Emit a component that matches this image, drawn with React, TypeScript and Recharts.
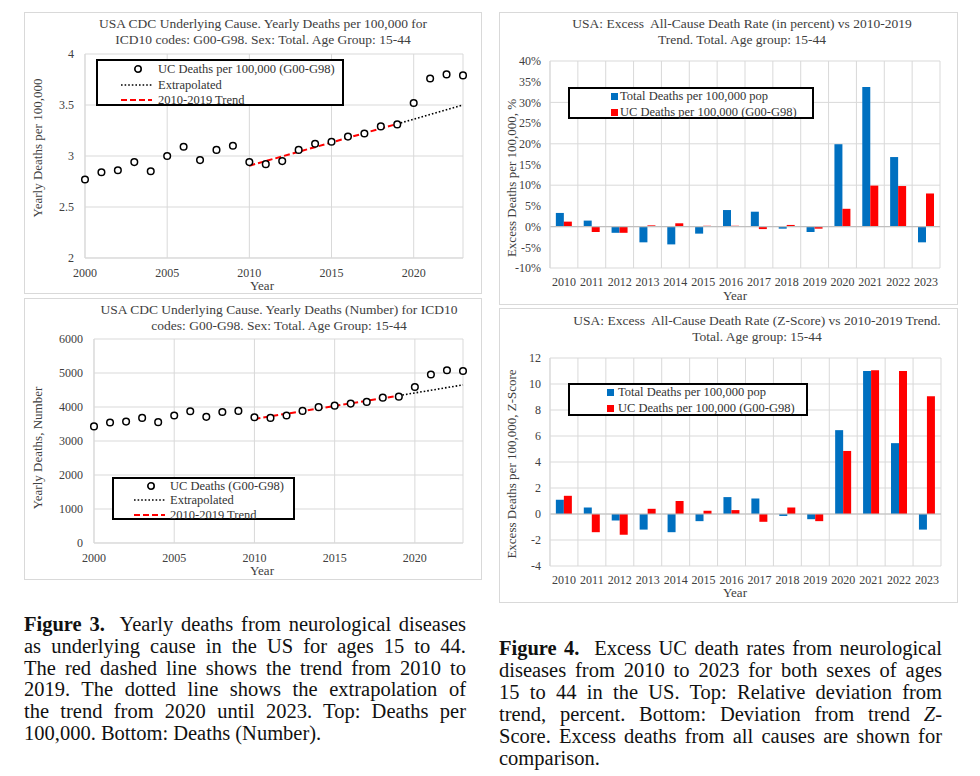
import React from "react";
import {
  ComposedChart,
  Line,
  BarChart,
  Bar,
  XAxis,
  YAxis,
  CartesianGrid,
  ReferenceLine,
} from "recharts";

// yearly deaths, ages 15-44, G00-G98
const years = [
  2000, 2001, 2002, 2003, 2004, 2005, 2006, 2007, 2008, 2009, 2010, 2011,
  2012, 2013, 2014, 2015, 2016, 2017, 2018, 2019, 2020, 2021, 2022, 2023,
];
const ucRate = [
  2.77, 2.84, 2.86, 2.94, 2.85, 3.0, 3.09, 2.96, 3.06, 3.1, 2.94, 2.92,
  2.95, 3.06, 3.12, 3.14, 3.19, 3.22, 3.29, 3.31, 3.52, 3.76, 3.8, 3.79,
];
const ucNumber = [
  3430, 3545, 3570, 3680, 3555, 3750, 3875, 3710, 3855, 3885, 3700, 3680,
  3750, 3885, 3995, 4040, 4100, 4150, 4275, 4305, 4590, 4955, 5080, 5060,
];
const trendYears = [2010, 2019];
const trendRate = [2.905, 3.315];
const trendNumber = [3650, 4335];
const extrapYears = [2019, 2023];
const extrapRate = [3.315, 3.5];
const extrapNumber = [4335, 4650];

const rateTicks = [2, 2.5, 3, 3.5, 4];
const numberTicks = [0, 1000, 2000, 3000, 4000, 5000, 6000];
const yearTicks = [2000, 2005, 2010, 2015, 2020];

// excess death rates 2010-2023
const barYears = [
  "2010", "2011", "2012", "2013", "2014", "2015", "2016",
  "2017", "2018", "2019", "2020", "2021", "2022", "2023",
];
const totalPct = [3.3, 1.45, -1.5, -3.8, -4.3, -1.7, 4.0, 3.6, -0.5, -1.3, 19.9, 33.7, 16.8, -3.8];
const ucPct = [1.2, -1.3, -1.5, 0.3, 0.8, 0.2, 0.2, -0.6, 0.4, -0.5, 4.3, 9.9, 9.8, 8.0];
const totalZ = [1.1, 0.5, -0.5, -1.2, -1.4, -0.55, 1.3, 1.2, -0.15, -0.4, 6.45, 11.0, 5.45, -1.2];
const ucZ = [1.4, -1.4, -1.6, 0.4, 1.0, 0.25, 0.3, -0.6, 0.5, -0.55, 4.85, 11.05, 11.0, 9.05];
const pctTicks = [-10, -5, 0, 5, 10, 15, 20, 25, 30, 35, 40];
const zTicks = [-4, -2, 0, 2, 4, 6, 8, 10, 12];

const FONT = '"Liberation Serif", "DejaVu Serif", serif';
const GRID = "#d9d9d9";
const TXT = "#404040";
const BLUE = "#0070C0";
const RED = "#FF0000";

const pointData = (vals: number[]) => years.map((y, i) => ({ year: y, v: vals[i] }));
const pairData = (xs: number[], vals: number[]) => xs.map((x, i) => ({ year: x, v: vals[i] }));
const barData = (a: number[], b: number[]) =>
  barYears.map((y, i) => ({ year: y, total: a[i], uc: b[i] }));

const tick = { fill: TXT, fontSize: 12, fontFamily: FONT };

// vertical grid on category boundaries, like the spreadsheet original
const boundaryGrid = ({ offset }: any) =>
  barYears.concat([""]).map((_, i) => offset.left + (i * offset.width) / barYears.length);

const Frame = ({ l, t, w, h, children }: any) => (
  <div
    style={{
      position: "absolute",
      left: l,
      top: t,
      width: w,
      height: h,
      outline: "1px solid " + GRID,
      outlineOffset: -1,
    }}
  >
    {children}
  </div>
);

const Label = ({ x, y, size = 13, rotate = false, lh = 16, children }: any) => (
  <div
    style={{
      position: "absolute",
      left: x,
      top: y,
      transform: `translate(-50%, -50%)${rotate ? " rotate(-90deg)" : ""}`,
      whiteSpace: "nowrap",
      fontFamily: FONT,
      fontSize: size,
      color: TXT,
      textAlign: "center",
      lineHeight: lh + "px",
    }}
  >
    {children}
  </div>
);

const LegendBox = ({ l, t, w, h, children }: any) => (
  <div
    style={{
      position: "absolute",
      left: l,
      top: t,
      width: w,
      height: h,
      border: "2px solid #000",
      boxSizing: "border-box",
      background: "#fff",
      fontFamily: FONT,
      fontSize: 12.5,
      color: "#333",
    }}
  >
    {children}
  </div>
);

const LegendRow = ({ y, textX, children, icon }: any) => (
  <div style={{ position: "absolute", left: 0, top: y - 8, height: 16, width: "100%" }}>
    {icon}
    <span style={{ position: "absolute", left: textX, top: 0, lineHeight: "16px", whiteSpace: "nowrap" }}>
      {children}
    </span>
  </div>
);

const CircleIcon = ({ x }: any) => (
  <svg style={{ position: "absolute", left: x - 5, top: 3 }} width={10} height={10}>
    <circle cx={5} cy={5} r={3.2} fill="#fff" stroke="#000" strokeWidth={1.6} />
  </svg>
);

const LineIcon = ({ x1, x2, color, dash, width }: any) => (
  <svg style={{ position: "absolute", left: x1, top: 6 }} width={x2 - x1} height={4}>
    <line x1={0} y1={2} x2={x2 - x1} y2={2} stroke={color} strokeWidth={width} strokeDasharray={dash} />
  </svg>
);

const SquareIcon = ({ x, color }: any) => (
  <div style={{ position: "absolute", left: x - 3, top: 5, width: 7, height: 7, background: color }} />
);

const ScatterPanel = ({ vals, trend, extrap, ticks, domain, yWidth, top }: any) => (
  <ComposedChart
    width={458}
    height={282}
    margin={{ top, right: 19, bottom: 37 - (top === 42 ? 1 : 0) - 20, left: 0 }}
    style={{ fontFamily: FONT }}
  >
    <CartesianGrid stroke={GRID} strokeWidth={1} />
    <XAxis
      type="number"
      dataKey="year"
      domain={[2000, 2023]}
      ticks={yearTicks}
      tick={tick}
      tickLine={false}
      tickMargin={4}
      height={20}
      axisLine={{ stroke: GRID }}
      allowDuplicatedCategory={false}
    />
    <YAxis
      type="number"
      domain={domain}
      ticks={ticks}
      tick={tick}
      tickLine={false}
      tickMargin={5}
      width={yWidth}
      axisLine={{ stroke: GRID }}
    />
    <Line
      data={pairData(extrapYears, extrap)}
      dataKey="v"
      stroke="#000"
      strokeWidth={1.6}
      strokeDasharray="1.6 2"
      dot={false}
      isAnimationActive={false}
    />
    <Line
      data={pairData(trendYears, trend)}
      dataKey="v"
      stroke={RED}
      strokeWidth={2}
      strokeDasharray="6 3"
      dot={false}
      isAnimationActive={false}
    />
    <Line
      data={pointData(vals)}
      dataKey="v"
      stroke="none"
      dot={{ r: 3.3, fill: "#fff", stroke: "#000", strokeWidth: 1.5 }}
      activeDot={false}
      isAnimationActive={false}
    />
  </ComposedChart>
);

const BarPanel = ({ a, b, ticks, domain, fmt, height, top, right }: any) => (
  <BarChart
    width={459}
    height={height}
    data={barData(a, b)}
    margin={{ top, right, bottom: 17, left: 0 }}
    barCategoryGap="21%"
    barGap={0}
    style={{ fontFamily: FONT }}
  >
    <CartesianGrid stroke={GRID} verticalCoordinatesGenerator={boundaryGrid} />
    <XAxis
      dataKey="year"
      interval={0}
      tick={tick}
      tickLine={false}
      tickMargin={3}
      height={20}
      axisLine={false}
    />
    <YAxis
      domain={domain}
      ticks={ticks}
      tick={tick}
      tickFormatter={fmt}
      tickLine={false}
      tickMargin={3}
      width={51}
      axisLine={{ stroke: GRID }}
    />
    <ReferenceLine y={0} stroke="#bfbfbf" strokeWidth={1.2} />
    <Bar dataKey="total" fill={BLUE} isAnimationActive={false} />
    <Bar dataKey="uc" fill={RED} isAnimationActive={false} />
  </BarChart>
);

const CapLine = ({ children, last }: any) => (
  <div style={{ textAlign: "justify", textAlignLast: last ? "left" : "justify" } as any}>{children}</div>
);

export default function App() {
  return (
    <div
      style={{
        position: "absolute",
        left: 0,
        top: 0,
        width: 980,
        height: 776,
        background: "#fff",
        overflow: "hidden",
      }}
    >
      {/* top left: deaths per 100,000 */}
      <Frame l={24} t={12} w={458} h={282}>
        <ScatterPanel vals={ucRate} trend={trendRate} extrap={extrapRate} ticks={rateTicks} domain={[2, 4]} yWidth={61} top={42} />
      </Frame>
      <Label x={263} y={32} size={13.5}>
        USA CDC Underlying Cause. Yearly Deaths per 100,000 for
        <br />
        ICD10 codes: G00-G98. Sex: Total. Age Group: 15-44
      </Label>
      <Label x={38} y={148} rotate>Yearly Deaths per 100,000</Label>
      <Label x={262} y={286} lh={12}>Year</Label>
      <LegendBox l={96} t={59} w={248} h={47}>
        <LegendRow y={8} textX={60} icon={<CircleIcon x={40} />}>UC Deaths per 100,000 (G00-G98)</LegendRow>
        <LegendRow y={24} textX={60} icon={<LineIcon x1={23} x2={54} color="#000" dash="1.6 2" width={1.6} />}>Extrapolated</LegendRow>
        <LegendRow y={39} textX={60} icon={<LineIcon x1={23} x2={54} color={RED} dash="6 3" width={2} />}>2010-2019 Trend</LegendRow>
      </LegendBox>

      {/* bottom left: deaths number */}
      <Frame l={24} t={298} w={458} h={282}>
        <ScatterPanel vals={ucNumber} trend={trendNumber} extrap={extrapNumber} ticks={numberTicks} domain={[0, 6000]} yWidth={70} top={41} />
      </Frame>
      <Label x={279} y={318} size={13.5}>
        USA CDC Underlying Cause. Yearly Deaths (Number) for ICD10
        <br />
        codes: G00-G98. Sex: Total. Age Group: 15-44
      </Label>
      <Label x={38} y={448} rotate>Yearly Deaths, Number</Label>
      <Label x={262} y={571} lh={12}>Year</Label>
      <LegendBox l={112} t={477} w={183} h={43}>
        <LegendRow y={7} textX={56} icon={<CircleIcon x={37} />}>UC Deaths (G00-G98)</LegendRow>
        <LegendRow y={21} textX={56} icon={<LineIcon x1={20} x2={51} color="#000" dash="1.6 2" width={1.6} />}>Extrapolated</LegendRow>
        <LegendRow y={36} textX={56} icon={<LineIcon x1={20} x2={51} color={RED} dash="6 3" width={2} />}>2010-2019 Trend</LegendRow>
      </LegendBox>

      {/* top right: excess percent */}
      <Frame l={499} t={12} w={459} h={293}>
        <BarPanel a={totalPct} b={ucPct} ticks={pctTicks} domain={[-10, 40]} fmt={(v: number) => `${v}%`} height={293} top={49} right={18} />
      </Frame>
      <Label x={742} y={32} size={13.5}>
        USA: Excess&nbsp; All-Cause Death Rate (in percent) vs 2010-2019
        <br />
        Trend. Total. Age group: 15-44
      </Label>
      <Label x={512} y={178} rotate>Excess Deaths per 100,000, %</Label>
      <Label x={735} y={296} lh={12}>Year</Label>
      <LegendBox l={568} t={87} w={246} h={32}>
        <LegendRow y={7} textX={50} icon={<SquareIcon x={44} color={BLUE} />}>Total Deaths per 100,000 pop</LegendRow>
        <LegendRow y={23} textX={50} icon={<SquareIcon x={44} color={RED} />}>UC Deaths per 100,000 (G00-G98)</LegendRow>
      </LegendBox>

      {/* bottom right: excess z-score */}
      <Frame l={499} t={308} w={459} h={295}>
        <BarPanel a={totalZ} b={ucZ} ticks={zTicks} domain={[-4, 12]} fmt={(v: number) => `${v}`} height={295} top={50} right={17} />
      </Frame>
      <Label x={757} y={329} size={13.5}>
        USA: Excess&nbsp; All-Cause Death Rate (Z-Score) vs 2010-2019 Trend.
        <br />
        Total. Age group: 15-44
      </Label>
      <Label x={512} y={464} rotate>Excess Deaths per 100,000, Z-Score</Label>
      <Label x={735} y={593} lh={12}>Year</Label>
      <LegendBox l={568} t={383} w={240} h={33}>
        <LegendRow y={7} textX={48} icon={<SquareIcon x={40} color={BLUE} />}>Total Deaths per 100,000 pop</LegendRow>
        <LegendRow y={23} textX={48} icon={<SquareIcon x={40} color={RED} />}>UC Deaths per 100,000 (G00-G98)</LegendRow>
      </LegendBox>

      {/* captions */}
      <div
        style={{
          position: "absolute",
          left: 24,
          top: 614,
          width: 442,
          fontFamily: FONT,
          fontSize: 20.5,
          lineHeight: "21.8px",
          color: "#111",
        }}
      >
        <CapLine><b>Figure 3.</b>&nbsp; Yearly deaths from neurological diseases</CapLine>
        <CapLine>as underlying cause in the US for ages 15 to 44.</CapLine>
        <CapLine>The red dashed line shows the trend from 2010 to</CapLine>
        <CapLine>2019. The dotted line shows the extrapolation of</CapLine>
        <CapLine>the trend from 2020 until 2023. Top: Deaths per</CapLine>
        <CapLine last>100,000. Bottom: Deaths (Number).</CapLine>
      </div>
      <div
        style={{
          position: "absolute",
          left: 499,
          top: 637,
          width: 443,
          fontFamily: FONT,
          fontSize: 20.5,
          lineHeight: "22px",
          color: "#111",
        }}
      >
        <CapLine><b>Figure 4.</b>&nbsp; Excess UC death rates from neurological</CapLine>
        <CapLine>diseases from 2010 to 2023 for both sexes of ages</CapLine>
        <CapLine>15 to 44 in the US. Top: Relative deviation from</CapLine>
        <CapLine>trend, percent. Bottom: Deviation from trend <i>Z</i>-</CapLine>
        <CapLine>Score. Excess deaths from all causes are shown for</CapLine>
        <CapLine last>comparison.</CapLine>
      </div>
    </div>
  );
}
